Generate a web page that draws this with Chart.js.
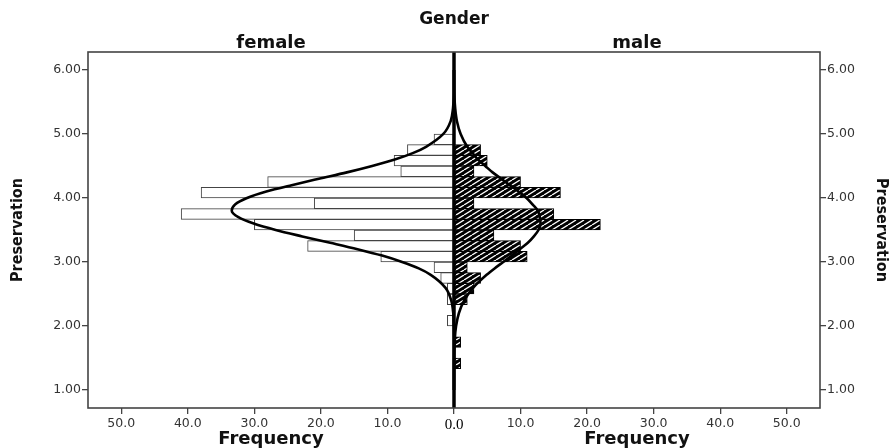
<!DOCTYPE html>
<html>
<head>
<meta charset="utf-8">
<script src="https://cdn.jsdelivr.net/npm/chart.js@4.4.1/dist/chart.umd.min.js"></script>
<style>
  html, body { margin: 0; padding: 0; background: #fff; }
  #wrap { width: 896px; height: 448px; }
</style>
</head>
<body>
<div id="wrap"><canvas id="c" width="896" height="448"></canvas></div>
<script>
// ---- data ----
const groups = ['female', 'male'];
const binWidth = 1 / 6;
const binLow = [4.8333, 4.6667, 4.5, 4.3333, 4.1667, 4.0, 3.8333, 3.6667, 3.5, 3.3333, 3.1667, 3.0,
                2.8333, 2.6667, 2.5, 2.3333, 2.1667, 2.0, 1.8333, 1.6667, 1.5, 1.3333];
const femaleCounts = [3, 7, 9, 8, 28, 38, 21, 41, 30, 15, 22, 11, 3, 2, 1, 1, 0, 1, 0, 0, 0, 0];
const maleCounts   = [0, 4, 5, 3, 10, 16, 3, 15, 22, 6, 10, 11, 2, 4, 3, 2, 0, 0, 0, 1, 0, 1];

const curveY      = [1.0, 1.4, 1.8, 2.0, 2.2, 2.4, 2.6, 2.8, 2.9, 3.0, 3.1, 3.2, 3.3, 3.4, 3.5, 3.6, 3.7,
                     3.8, 3.9, 4.0, 4.1, 4.2, 4.3, 4.4, 4.5, 4.6, 4.7, 4.8, 5.0, 5.2, 5.4, 5.6, 6.0];
const femaleCurve = [0, 0, 0.005, 0.03, 0.11, 0.42, 1.3, 3.5, 5.3, 7.8, 10.8, 14.5, 18.6, 22.8, 26.8, 30.1, 32.4,
                     33.4, 32.9, 31.1, 28.2, 24.4, 20.3, 16.1, 12.3, 8.9, 6.2, 4.2, 1.6, 0.5, 0.15, 0.03, 0];
const maleCurve   = [0, 0.01, 0.12, 0.31, 0.73, 1.54, 2.9, 4.9, 6.1, 7.4, 8.7, 9.9, 11.1, 12.0, 12.7, 13.0, 12.9,
                     12.6, 11.8, 10.9, 9.7, 8.4, 7.1, 5.8, 4.7, 3.6, 2.8, 2.0, 1.0, 0.44, 0.18, 0.06, 0];

const yTicks = [1, 2, 3, 4, 5, 6];
const xTicks = [-50, -40, -30, -20, -10, 0, 10, 20, 30, 40, 50];
const yRange = [0.72, 6.28];
const xRange = [-55, 55];

// ---- hatch pattern for male bars ----
function makeHatch() {
  const w = 8, h = 5;
  const p = document.createElement('canvas');
  p.width = w; p.height = h;
  const g = p.getContext('2d');
  g.fillStyle = '#000';
  g.fillRect(0, 0, w, h);
  g.strokeStyle = '#fff';
  g.lineWidth = 1.3;
  for (let k = -1; k <= 1; k++) {
    g.beginPath();
    g.moveTo(k * w, h);
    g.lineTo(k * w + w, 0);
    g.stroke();
  }
  return g.createPattern(p, 'repeat');
}
const hatch = makeHatch();

const centers = binLow.map(v => v + binWidth / 2);
const femaleData = centers.map((c, i) => ({ y: c, x: femaleCounts[i] ? -femaleCounts[i] : null }));
const maleData = centers.map((c, i) => ({ y: c, x: maleCounts[i] ? maleCounts[i] : null }));
const femaleLine = curveY.map((y, i) => ({ y: y, x: -femaleCurve[i] }));
const maleLine = curveY.map((y, i) => ({ y: y, x: maleCurve[i] }));

const decor = {
  id: 'decor',
  afterDatasetsDraw(chart) {
    const { ctx, chartArea: a, scales } = chart;
    const x0 = scales.x.getPixelForValue(0);
    ctx.save();
    ctx.strokeStyle = '#000';
    ctx.lineWidth = 3.5;
    ctx.beginPath();
    ctx.moveTo(x0, a.top);
    ctx.lineTo(x0, a.bottom);
    ctx.stroke();
    ctx.strokeStyle = '#444';
    ctx.lineWidth = 1.6;
    ctx.strokeRect(a.left, a.top, a.right - a.left, a.bottom - a.top);
    ctx.restore();
  },
  afterDraw(chart) {
    const { ctx, chartArea: a, scales } = chart;
    const x0 = scales.x.getPixelForValue(0);
    const lc = (a.left + x0) / 2, rc = (x0 + a.right) / 2;
    const midY = (a.top + a.bottom) / 2;
    ctx.save();
    ctx.fillStyle = '#111';
    ctx.textAlign = 'center';
    ctx.textBaseline = 'middle';
    ctx.font = 'bold 17px "DejaVu Sans"';
    ctx.fillText('Gender', x0, 20);
    ctx.font = 'bold 18px "DejaVu Sans"';
    ctx.fillText(groups[0], lc, 43);
    ctx.fillText(groups[1], rc, 43);
    ctx.fillText('Frequency', lc, 439);
    ctx.fillText('Frequency', rc, 439);
    ctx.font = 'bold 16px "Liberation Sans Narrow", "DejaVu Sans Condensed", sans-serif';
    ctx.save();
    ctx.translate(18, midY);
    ctx.rotate(-Math.PI / 2);
    ctx.fillText('Preservation', 0, 0);
    ctx.restore();
    ctx.save();
    ctx.translate(881, midY);
    ctx.rotate(Math.PI / 2);
    ctx.fillText('Preservation', 0, 0);
    ctx.restore();
    ctx.restore();
  }
};

const tickFont = { family: 'DejaVu Sans', size: 12.5 };
const yScale = (pos, w) => ({
  type: 'linear',
  position: pos,
  min: yRange[0], max: yRange[1],
  offset: false,
  grid: { drawOnChartArea: false, drawTicks: true, tickLength: 6, color: '#444', lineWidth: 1.3, offset: false },
  border: { display: false },
  ticks: { font: tickFont, color: '#333', padding: 1, callback: v => Number(v).toFixed(2) },
  afterBuildTicks: s => { s.ticks = yTicks.map(v => ({ value: v })); },
  afterFit: s => { s.width = w; }
});

new Chart(document.getElementById('c'), {
  type: 'bar',
  data: {
    datasets: [
      { label: 'female', data: femaleData, backgroundColor: '#fff', borderColor: '#444', borderWidth: 1,
        borderSkipped: false, grouped: false, categoryPercentage: 1, barPercentage: 1, order: 2 },
      { label: 'male', data: maleData, backgroundColor: hatch, borderColor: '#000', borderWidth: 1,
        borderSkipped: false, grouped: false, categoryPercentage: 1, barPercentage: 1, order: 2 },
      { type: 'line', label: 'female normal', indexAxis: 'y', data: femaleLine, borderColor: '#000',
        borderWidth: 2.6, pointRadius: 0, cubicInterpolationMode: 'monotone', fill: false, order: 1 },
      { type: 'line', label: 'male normal', indexAxis: 'y', data: maleLine, borderColor: '#000',
        borderWidth: 2.6, pointRadius: 0, cubicInterpolationMode: 'monotone', fill: false, order: 1 }
    ]
  },
  options: {
    indexAxis: 'y',
    responsive: false,
    animation: false,
    devicePixelRatio: 1,
    layout: { padding: { top: 52, left: 0, right: 0, bottom: 0 } },
    plugins: { legend: { display: false }, tooltip: { enabled: false } },
    scales: {
      x: {
        type: 'linear',
        position: 'bottom',
        min: xRange[0], max: xRange[1],
        grid: { drawOnChartArea: false, drawTicks: true, tickLength: 6, color: '#444', lineWidth: 1.3 },
        border: { display: false },
        ticks: {
          font: c => c.tick && c.tick.value === 0 ? { family: 'Liberation Serif', size: 15 } : tickFont,
          color: c => c.tick && c.tick.value === 0 ? '#000' : '#333',
          padding: 2,
          maxRotation: 0,
          callback: v => Math.abs(v).toFixed(1)
        },
        afterBuildTicks: s => { s.ticks = xTicks.map(v => ({ value: v })); },
        afterFit: s => { s.height = 40; }
      },
      y: yScale('left', 88),
      y2: yScale('right', 76)
    }
  },
  plugins: [decor]
});
</script>
</body>
</html>
